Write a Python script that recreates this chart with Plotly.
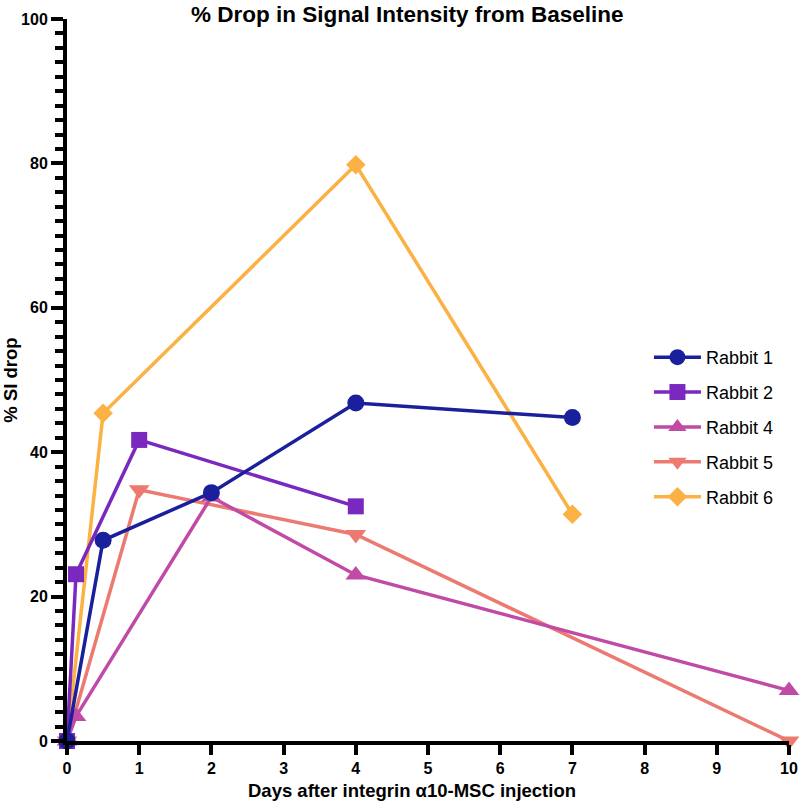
import plotly.graph_objects as go

names = ["Rabbit 1", "Rabbit 2", "Rabbit 4", "Rabbit 5", "Rabbit 6"]
r1_x = [0, 0.5, 2, 4, 7]
r1_y = [0, 27.8, 34.4, 46.8, 44.8]
r2_x = [0, 0.125, 1, 4]
r2_y = [0, 23.1, 41.7, 32.5]
r4_x = [0, 0.125, 2, 4, 10]
r4_y = [0, 3.4, 33.8, 23.0, 7.0]
r5_x = [0, 1, 4, 10]
r5_y = [0, 34.8, 28.6, 0]
r6_x = [0, 0.5, 4, 7]
r6_y = [0, 45.4, 79.8, 31.4]

colors = ["#1a1f9b", "#7a29bf", "#c04aa5", "#ec7a71", "#fbb143"]
symbols = ["circle", "square", "triangle-up", "triangle-down", "diamond"]
sizes = [17, 16, 18, 18, 15]
xs = [r1_x, r2_x, r4_x, r5_x, r6_x]
ys = [r1_y, r2_y, r4_y, r5_y, r6_y]

fig = go.Figure()
# draw Rabbit 6 first so Rabbit 1 sits on top
for i in reversed(range(5)):
    fig.add_trace(go.Scatter(
        x=xs[i], y=ys[i], name=names[i], mode="lines+markers",
        line=dict(color=colors[i], width=3.5),
        marker=dict(symbol=symbols[i], size=sizes[i], color=colors[i], line=dict(width=0)),
        legendgroup=names[i], legendrank=i + 1, cliponaxis=False,
    ))

font_family = "Liberation Sans, Arial, sans-serif"
bold = dict(family=font_family, color="black", weight="bold")
fig.update_layout(
    width=800, height=804,
    margin=dict(l=67, r=11, t=19, b=63),
    paper_bgcolor="white", plot_bgcolor="white",
    font=dict(family=font_family, color="black"),
    title=dict(text="% Drop in Signal Intensity from Baseline", x=0.509, xanchor="center",
               y=0.982, yanchor="middle", font=dict(size=22.5, **bold)),
    showlegend=True,
    legend=dict(x=0.806, y=0.435, xanchor="left", yanchor="middle",
                font=dict(size=18, color="black"), tracegroupgap=8.5,
                traceorder="grouped", bgcolor="rgba(0,0,0,0)", itemwidth=47),
    xaxis=dict(range=[0, 10], tickmode="array", tickvals=list(range(0, 11)), automargin=False,
               showgrid=False, zeroline=False, showline=True, linecolor="black", linewidth=4,
               ticks="outside", ticklen=10, tickwidth=3.5, tickcolor="black",
               tickfont=dict(size=16, **bold)),
    yaxis=dict(range=[0, 100], tickmode="array", tickvals=[0, 20, 40, 60, 80, 100], automargin=False,
               showgrid=False, zeroline=False, showline=True, linecolor="black", linewidth=4,
               ticks="outside", ticklen=12, tickwidth=3.5, tickcolor="black",
               tickfont=dict(size=16, **bold),
               minor=dict(dtick=2, ticks="outside", ticklen=8, tickwidth=3.5, tickcolor="black", showgrid=False),
               title=dict(text="% SI drop", font=dict(size=18.5, **bold), standoff=14)),
)
fig.add_annotation(text="Days after integrin α10-MSC injection", xref="paper", yref="paper",
                   x=0.478, y=-0.069, xanchor="center", yanchor="middle", showarrow=False,
                   font=dict(size=18.5, **bold))
fig.write_html("out.html", config={"displayModeBar": False},
               post_script="document.body.style.margin='0';document.body.style.overflow='hidden';")
